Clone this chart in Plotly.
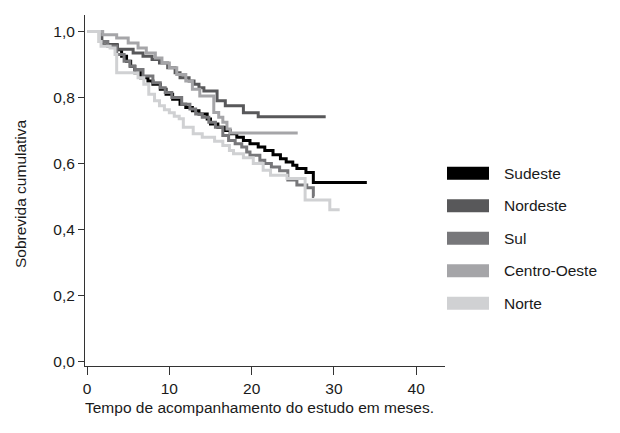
import plotly.graph_objects as go

# ---- data ----
regions = ["Sudeste", "Nordeste", "Sul", "Centro-Oeste", "Norte"]
colors = ["#000000", "#58585a", "#77777a", "#a5a5a8", "#d0d1d3"]

sudeste_t = [0, 1.5, 2.5, 3.6, 4.2, 4.8, 5.3, 5.8, 6.5, 7.4, 8.0, 8.9, 9.6, 10.4, 11.3, 12.0,
             12.8, 13.6, 14.6, 15.0, 15.9, 16.8, 17.4, 18.2, 19.0, 19.8, 20.8, 21.6, 22.6,
             23.5, 24.2, 25.0, 25.5, 26.6, 27.5, 34.0]
sudeste_s = [1.0, 0.97, 0.96, 0.945, 0.925, 0.91, 0.895, 0.875, 0.86, 0.85, 0.84, 0.825, 0.81,
             0.795, 0.78, 0.77, 0.76, 0.75, 0.735, 0.72, 0.71, 0.70, 0.69, 0.68, 0.67, 0.66,
             0.65, 0.64, 0.627, 0.615, 0.605, 0.595, 0.585, 0.573, 0.543, 0.543]

nordeste_t = [0, 1.8, 3.7, 5.6, 6.8, 7.9, 8.8, 9.8, 10.7, 11.3, 12.4, 13.0, 13.6, 14.2, 15.8,
              16.8, 19.0, 20.8, 29.0]
nordeste_s = [1.0, 0.96, 0.946, 0.935, 0.925, 0.915, 0.905, 0.89, 0.875, 0.86, 0.85, 0.84,
              0.83, 0.82, 0.79, 0.775, 0.754, 0.742, 0.742]

sul_t = [0, 1.5, 2.5, 3.6, 4.5, 5.2, 5.8, 6.8, 8.0, 8.9, 9.5, 10.3, 11.5, 12.5, 13.2, 14.0,
         14.8, 15.6, 16.5, 17.2, 18.0, 18.8, 19.4, 19.8, 21.0, 21.6, 22.4, 23.4, 24.4, 25.5,
         26.7, 27.5, 27.6]
sul_s = [1.0, 0.97, 0.955, 0.93, 0.91, 0.895, 0.885, 0.865, 0.845, 0.83, 0.815, 0.80, 0.78,
         0.765, 0.75, 0.74, 0.725, 0.71, 0.685, 0.67, 0.66, 0.65, 0.635, 0.625, 0.61, 0.60,
         0.59, 0.578, 0.55, 0.535, 0.527, 0.50, 0.50]

centro_t = [0, 1.9, 3.6, 5.0, 6.2, 7.2, 8.3, 9.1, 10.0, 10.9, 12.0, 12.8, 13.7, 15.4, 16.0,
            16.5, 17.0, 17.4, 25.6]
centro_s = [1.0, 0.99, 0.98, 0.965, 0.95, 0.935, 0.92, 0.905, 0.89, 0.87, 0.85, 0.825, 0.805,
            0.755, 0.74, 0.725, 0.705, 0.693, 0.693]

norte_t = [0, 1.5, 1.7, 2.8, 3.4, 3.6, 6.2, 6.9, 7.5, 8.2, 8.8, 9.4, 10.0, 10.6, 11.2, 11.7,
           12.9, 14.0, 15.5, 16.5, 17.3, 17.8, 19.0, 20.2, 21.4, 22.3, 24.3, 26.5, 29.5, 30.7]
norte_s = [1.0, 0.97, 0.955, 0.95, 0.93, 0.875, 0.86, 0.84, 0.81, 0.79, 0.775, 0.763, 0.754,
           0.743, 0.736, 0.71, 0.69, 0.68, 0.668, 0.655, 0.64, 0.63, 0.618, 0.60, 0.58, 0.565,
           0.555, 0.49, 0.46, 0.46]

series_t = [sudeste_t, nordeste_t, sul_t, centro_t, norte_t]
series_s = [sudeste_s, nordeste_s, sul_s, centro_s, norte_s]

y_ticks = [0, 0.2, 0.4, 0.6, 0.8, 1.0]
x_ticks = [0, 10, 20, 30, 40]
x_title = "Tempo de acompanhamento do estudo em meses."
y_title = "Sobrevida cumulativa"

FONT = "Liberation Sans, Arial, sans-serif"
TXT = "#1a1a1a"
FS = 15.5

fig = go.Figure()
for name, col, t, s in zip(regions, colors, series_t, series_s):
    fig.add_trace(go.Scatter(x=t, y=s, mode="lines", name=name,
                             line=dict(color=col, width=3, shape="hv"),
                             showlegend=False))

# plot area in pixels
L, R, T, B = 85, 445, 15, 366
W, H = 620, 433

def px_x(px):
    return (px - L) / (R - L)

def px_y(py):
    return (B - py) / (B - T)

shapes = []
annotations = []
leg_y0 = 173.3
leg_dy = 32.5
for i, (name, col) in enumerate(zip(regions, colors)):
    cy = leg_y0 + i * leg_dy
    shapes.append(dict(type="rect", xref="paper", yref="paper",
                       x0=px_x(447), x1=px_x(489), y0=px_y(cy + 6.5), y1=px_y(cy - 6.5),
                       fillcolor=col, line=dict(width=0)))
    annotations.append(dict(xref="paper", yref="paper", x=px_x(502), y=px_y(cy),
                            text=name, showarrow=False, xanchor="left", yanchor="middle",
                            font=dict(family=FONT, size=FS, color=TXT)))

annotations.append(dict(xref="paper", yref="paper", x=px_x(259.5), y=px_y(407),
                        text=x_title, showarrow=False, xanchor="center", yanchor="middle",
                        font=dict(family=FONT, size=FS, color=TXT)))
annotations.append(dict(xref="paper", yref="paper", x=px_x(20), y=px_y(194),
                        text=y_title, showarrow=False, xanchor="center", yanchor="middle",
                        textangle=-90, font=dict(family=FONT, size=FS, color=TXT)))

fig.update_layout(
    width=W, height=H,
    margin=dict(l=L, r=W - R, t=T, b=H - B, pad=0),
    paper_bgcolor="white", plot_bgcolor="white",
    separators=",.",
    font=dict(family=FONT, size=FS, color=TXT),
    shapes=shapes, annotations=annotations,
    showlegend=False,
)
fig.update_xaxes(range=[-0.25, 43.5], tickvals=x_ticks, ticks="outside", ticklen=8,
                 tickcolor="#333", showline=True, linecolor="#333", linewidth=1,
                 showgrid=False, zeroline=False, automargin=False,
                 tickfont=dict(family=FONT, size=FS, color=TXT))
fig.update_yaxes(range=[-0.013, 1.05], tickvals=y_ticks, tickformat=".1f",
                 ticks="outside", ticklen=6, tickcolor="#333",
                 showline=True, linecolor="#333", linewidth=1,
                 showgrid=False, zeroline=False, automargin=False,
                 tickfont=dict(family=FONT, size=FS, color=TXT))

fig.write_html("out.html", config={"displayModeBar": False},
               post_script="document.body.style.margin='0';document.body.style.overflow='hidden';")
